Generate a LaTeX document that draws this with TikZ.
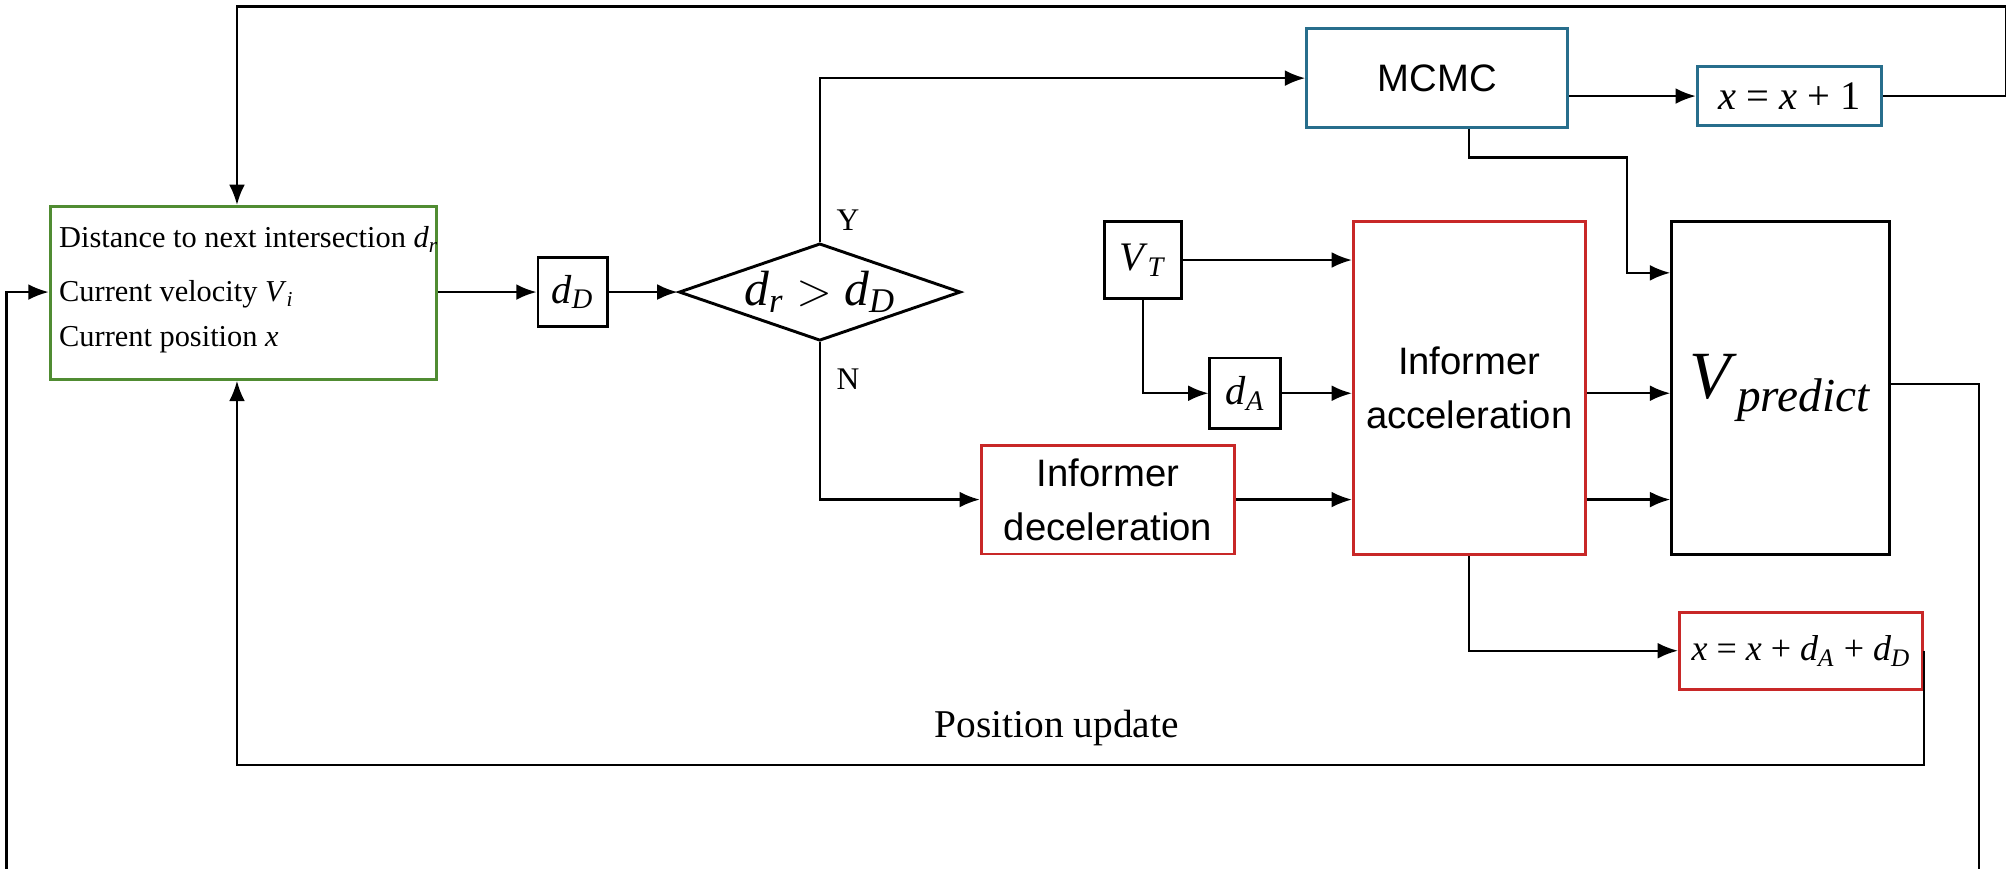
\documentclass[tikz,border=0pt]{standalone}
\usepackage{fontspec}
\setmainfont{Liberation Serif}
\newfontfamily\sansf{Liberation Sans}
\usetikzlibrary{arrows.meta,shapes.geometric}
\definecolor{gbox}{RGB}{80,140,50}
\definecolor{bbox}{RGB}{40,110,140}
\definecolor{rbox}{RGB}{200,40,40}
\newlength\pxu \setlength\pxu{0.2mm}
\newcommand\mv[2]{\textit{#1}\textsubscript{\textit{#2}}}
\begin{document}
\begin{tikzpicture}[x=0.02cm,y=-0.02cm,
  box/.style={draw,line width=1.3pt,inner sep=0pt,anchor=north west},
  arr/.style={-{Latex[length=9pt,width=7pt]},line width=1pt},
  lab/.style={font=\fontsize{18}{20}\selectfont}]
\path[use as bounding box] (0,0) rectangle (1566,678);
\node[box,draw=gbox,minimum width=302\pxu,minimum height=135\pxu] (green) at (38,160) {};
\node[anchor=west,font=\fontsize{13.5}{15}\selectfont] (t1) at (40,187) {Distance to next intersection \mv{d}{r}};
\node[anchor=west,font=\fontsize{13.5}{15}\selectfont] (t2) at (40,230) {Current velocity \mv{V}{i}};
\node[anchor=west,font=\fontsize{13.5}{15}\selectfont] (t3) at (40,265) {Current position \textit{x}};
\node[box,minimum width=54\pxu,minimum height=54\pxu,anchor=center,lab] (dD) at (447,228) {\mv{d}{D}};
\node[diamond,draw,line width=1.3pt,aspect=2.9,minimum width=220\pxu,minimum height=76\pxu,inner sep=0pt,font=\fontsize{22}{24}\selectfont] (dia) at (640,228) {\mv{d}{r} $>$ \mv{d}{D}};
\node[font=\fontsize{14}{16}\selectfont] (ly) at (662,172) {Y};
\node[font=\fontsize{14}{16}\selectfont] (ln) at (662,296) {N};
\node[box,draw=bbox,minimum width=204\pxu,minimum height=77\pxu,anchor=center,font=\sansf\fontsize{17}{19}\selectfont] (mcmc) at (1122,61) {MCMC};
\node[box,draw=bbox,minimum width=144\pxu,minimum height=46\pxu,anchor=center,lab] (x1) at (1397,75) {\textit{x} = \textit{x} + 1};
\node[box,minimum width=60\pxu,minimum height=60\pxu,anchor=center,lab] (vt) at (892,203) {\mv{V}{T}};
\node[box,minimum width=55\pxu,minimum height=55\pxu,anchor=center,lab] (dA) at (972,307) {\mv{d}{A}};
\node[box,draw=rbox,minimum width=181\pxu,minimum height=260\pxu,anchor=center,align=center,font=\sansf\fontsize{17}{24}\selectfont] (acc) at (1147,303) {Informer\\acceleration};
\node[box,draw=rbox,minimum width=198\pxu,minimum height=85\pxu,anchor=center,align=center,font=\sansf\fontsize{17}{24}\selectfont] (dec) at (865,390) {Informer\\deceleration};
\node[box,minimum width=170\pxu,minimum height=260\pxu,anchor=center,font=\fontsize{30}{32}\selectfont] (vp) at (1390,303) {\mv{V}{predict}};
\node[box,draw=rbox,minimum width=190\pxu,minimum height=60\pxu,anchor=center,font=\fontsize{16}{18}\selectfont] (xa) at (1406,508) {\textit{x} = \textit{x} + \mv{d}{A} + \mv{d}{D}};
\node[font=\fontsize{17.5}{20}\selectfont] (pu) at (825,568) {Position update};
\node[font=\fontsize{17.5}{20}\selectfont] (vu) at (825,783) {Velocity update};
% connectors
\draw[arr] (green.east |- dD) -- (dD.west);
\draw[arr] (dD.east) -- (dia.west);
\draw[arr] (dia.north) |- (mcmc.west);
\draw[arr] (mcmc.east |- x1.west) -- (x1.west);
\draw[arr] (1147,0 |- mcmc.south) -- (1147,123) -- (1270,123) -- (1270,213) -- (vp.west |- 0,213);
\draw[arr] (dia.south) |- (dec.west);
\draw[arr] (dec.east) -- (acc.west |- dec.east);
\draw[arr] (vt.east) -- (acc.west |- vt.east);
\draw[arr] (vt.south) |- (dA.west);
\draw[arr] (dA.east) -- (acc.west |- dA.east);
\draw[arr] (acc.east |- dA.east) -- (vp.west |- dA.east);
\draw[arr] (acc.east |- dec.east) -- (vp.west |- dec.east);
\draw[arr] (acc.south) |- (xa.west);
\draw[arr] (x1.east) -- (1566,75) -- (1566,5) -- (185,5) -- (green.north -| 185,0);
\draw[arr] (vp.east |- 0,300) -- (1545,300) -- (1545,845) -- (5,845) -- (5,228) -- (green.west |- 0,228);
\draw[arr] (xa.east) -- (xa.east |- 0,597) -- (185,597) -- (green.south -| 185,0);
\end{tikzpicture}
\end{document}
